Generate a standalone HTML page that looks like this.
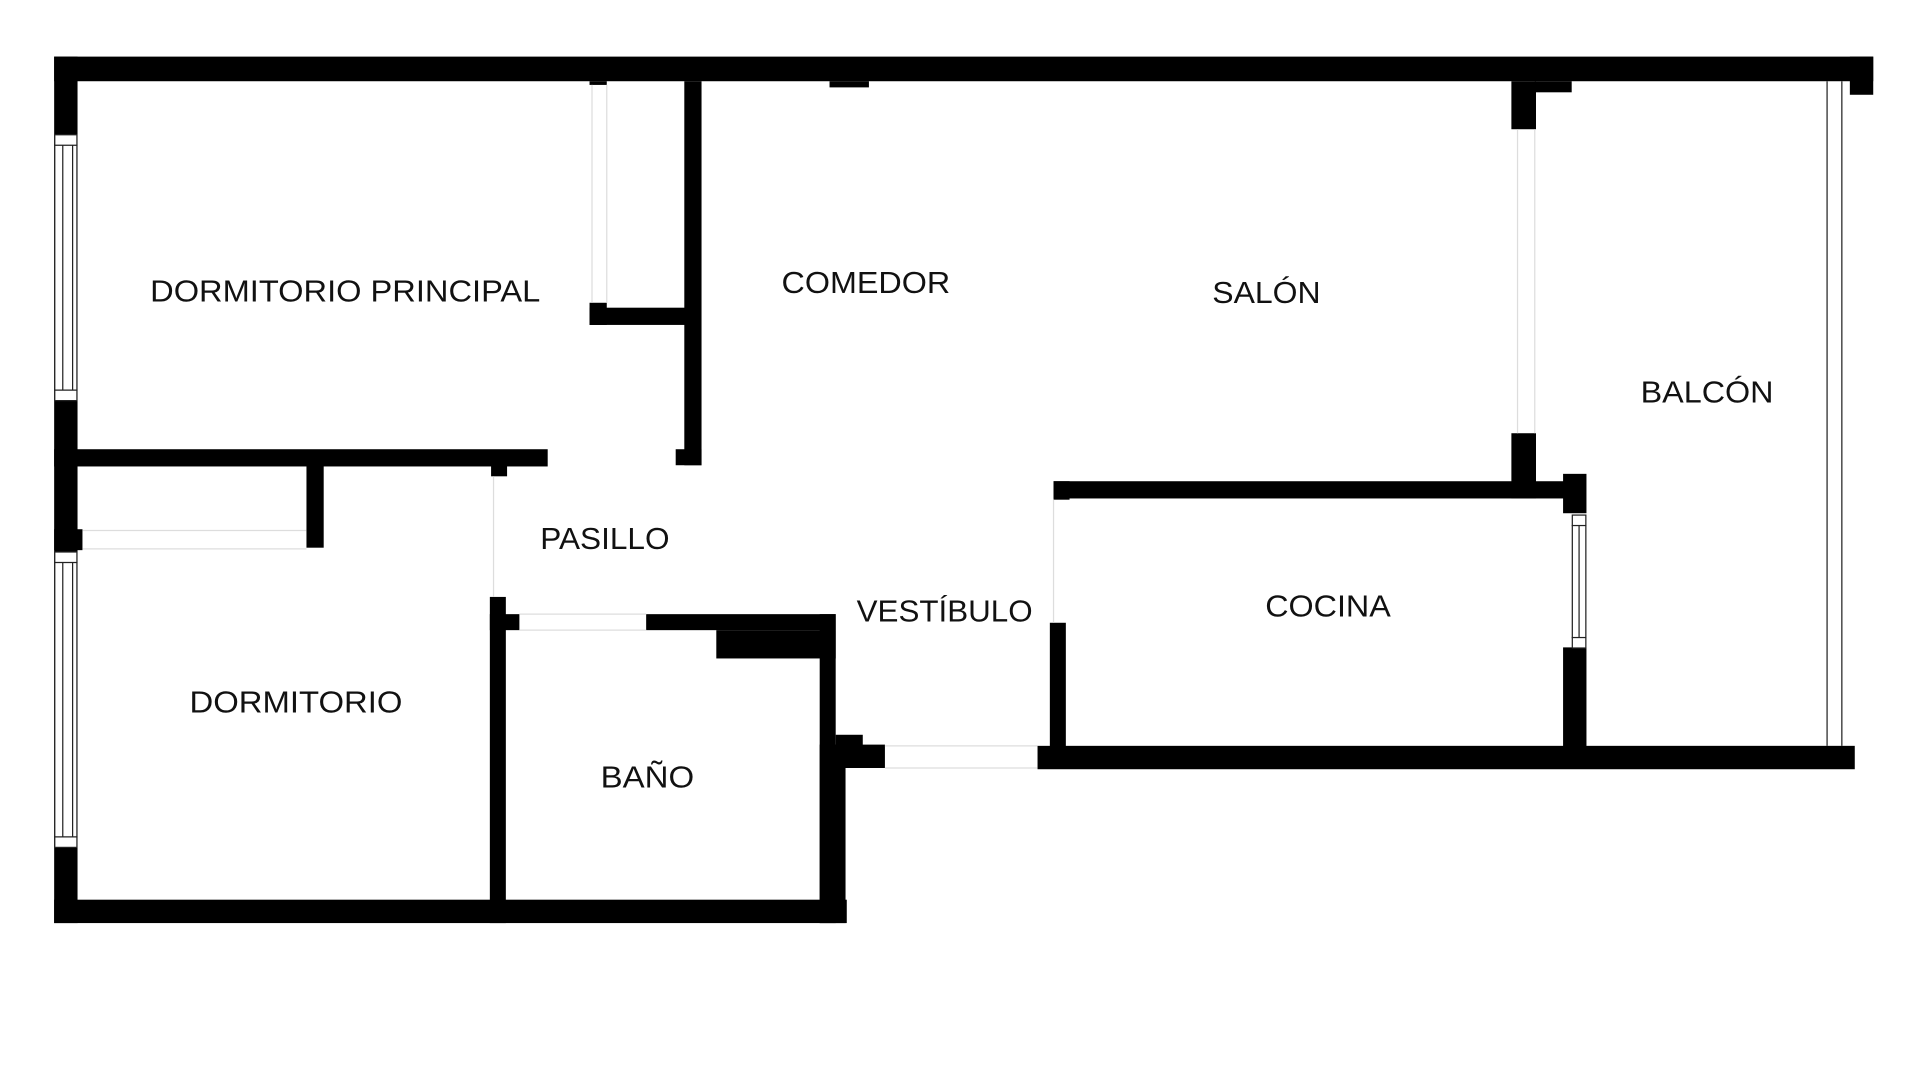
<!DOCTYPE html>
<html><head><meta charset="utf-8"><style>
html,body{margin:0;padding:0;background:#fff;}
svg{display:block;}
text{font-family:"Liberation Sans",sans-serif;font-size:25px;fill:#111;}
</style></head><body>
<svg width="1920" height="1080" viewBox="0 0 1560 877.5" xmlns="http://www.w3.org/2000/svg">
<rect width="1560" height="877.5" fill="#fff"/>
<g fill="#000">
<!-- outer top wall -->
<rect x="44" y="46" width="1478" height="20"/>
<rect x="1503" y="46" width="19" height="31"/>
<!-- left wall -->
<rect x="44" y="46" width="19" height="704"/>
<!-- bottom left wall -->
<rect x="44" y="731" width="644" height="19"/>
<!-- closet in master -->
<rect x="479" y="66" width="14" height="3"/>
<rect x="479" y="246" width="14" height="18"/>
<rect x="479" y="250" width="80" height="14"/>
<rect x="556" y="66" width="14" height="312"/>
<rect x="549" y="365" width="21" height="13"/>
<rect x="674" y="66" width="32" height="5"/>
<!-- master bottom wall -->
<rect x="44" y="365" width="401" height="14"/>
<rect x="399" y="378" width="13" height="9"/>
<!-- second closet -->
<rect x="249" y="378" width="14" height="67"/>
<rect x="44" y="430" width="23" height="17"/>
<!-- pasillo / baño -->
<rect x="398" y="485" width="13" height="265"/>
<rect x="398" y="499" width="24" height="13"/>
<rect x="525" y="499" width="154" height="13"/>
<rect x="582" y="512" width="97" height="23"/>
<rect x="666" y="499" width="13" height="251"/>
<rect x="666" y="605" width="21" height="145"/>
<rect x="679" y="597" width="22" height="10"/>
<rect x="679" y="605" width="40" height="19"/>
<!-- cocina -->
<rect x="843" y="606" width="664" height="19"/>
<rect x="853" y="506" width="13" height="110"/>
<rect x="856" y="391" width="432" height="14"/>
<rect x="856" y="391" width="13" height="15"/>
<rect x="1270" y="385" width="19" height="32"/>
<rect x="1270" y="526" width="19" height="90"/>
<rect x="1228" y="352" width="20" height="53"/>
<rect x="1228" y="66" width="20" height="39"/>
<rect x="1247" y="66" width="30" height="9"/>
</g>
<!-- windows -->
<g fill="#fff" stroke="#222" stroke-width="1">
<rect x="44.5" y="109.5" width="18" height="216"/>
<rect x="44.5" y="448.5" width="18" height="240"/>
<rect x="1277.5" y="418.5" width="11" height="108"/>
</g>
<g stroke="#222" stroke-width="1">
<line x1="44" y1="118" x2="63" y2="118"/><line x1="44" y1="317" x2="63" y2="317"/>
<line x1="51" y1="118" x2="51" y2="317"/><line x1="59" y1="118" x2="59" y2="317"/>
<line x1="44" y1="457" x2="63" y2="457"/><line x1="44" y1="680" x2="63" y2="680"/>
<line x1="51" y1="457" x2="51" y2="680"/><line x1="59" y1="457" x2="59" y2="680"/>
<line x1="1277" y1="427" x2="1289" y2="427"/><line x1="1277" y1="518" x2="1289" y2="518"/>
<line x1="1283" y1="427" x2="1283" y2="518"/>
<line x1="1484.5" y1="66" x2="1484.5" y2="606"/>
<line x1="1496.5" y1="66" x2="1496.5" y2="606"/>
</g>
<!-- door gaps (faint lines) -->
<g stroke="#ddd" stroke-width="1">
<line x1="481" y1="69" x2="481" y2="246"/><line x1="493" y1="69" x2="493" y2="246"/>
<line x1="67" y1="431" x2="249" y2="431"/><line x1="67" y1="446" x2="249" y2="446"/>
<line x1="422" y1="499" x2="525" y2="499"/><line x1="422" y1="512" x2="525" y2="512"/>
<line x1="719" y1="606" x2="843" y2="606"/><line x1="719" y1="624" x2="843" y2="624"/>
<line x1="1233" y1="105" x2="1233" y2="352"/><line x1="1247" y1="105" x2="1247" y2="352"/>
<line x1="856" y1="406" x2="856" y2="506"/>
<line x1="401" y1="387" x2="401" y2="485"/>
</g>
<text x="122" y="245" textLength="317" lengthAdjust="spacingAndGlyphs">DORMITORIO PRINCIPAL</text>
<text x="635" y="238" textLength="137" lengthAdjust="spacingAndGlyphs">COMEDOR</text>
<text x="985" y="246" textLength="88" lengthAdjust="spacingAndGlyphs">SALÓN</text>
<text x="1333" y="327" textLength="108" lengthAdjust="spacingAndGlyphs">BALCÓN</text>
<text x="439" y="446" textLength="105" lengthAdjust="spacingAndGlyphs">PASILLO</text>
<text x="696" y="505" textLength="143" lengthAdjust="spacingAndGlyphs">VESTÍBULO</text>
<text x="1028" y="501" textLength="102" lengthAdjust="spacingAndGlyphs">COCINA</text>
<text x="154" y="579" textLength="173" lengthAdjust="spacingAndGlyphs">DORMITORIO</text>
<text x="488" y="640" textLength="76" lengthAdjust="spacingAndGlyphs">BAÑO</text>
</svg>
</body></html>
